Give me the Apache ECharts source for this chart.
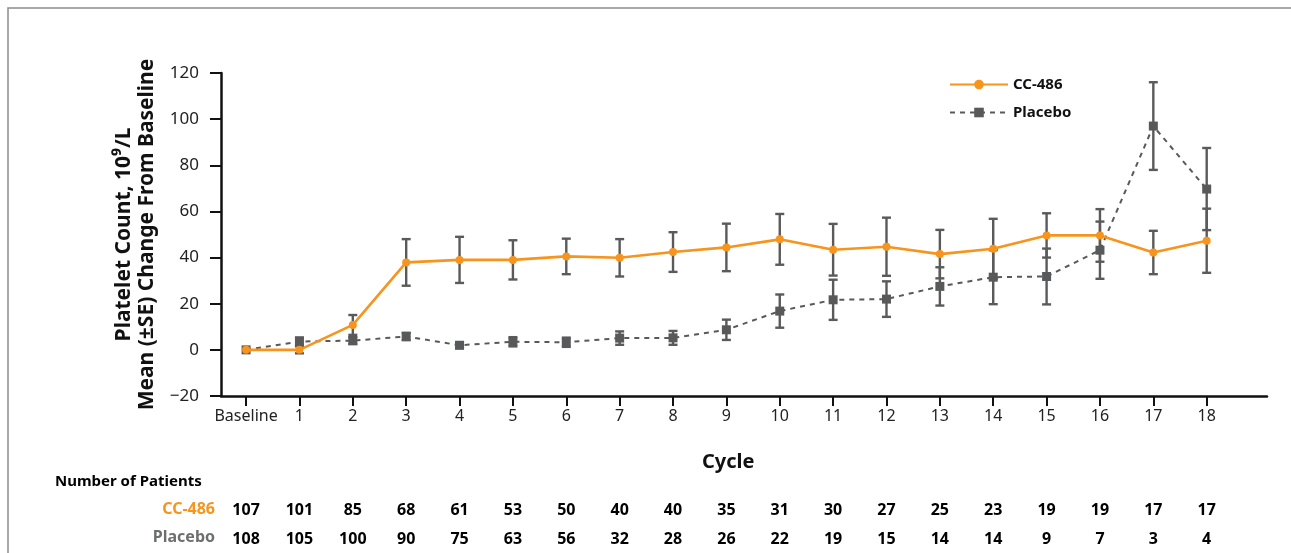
<!DOCTYPE html>
<html>
<head>
    <meta charset="utf-8">
    <title>Platelet count change</title>
    <script src="https://cdn.jsdelivr.net/npm/echarts@6/dist/echarts.min.js"></script>
</head>
<body style="margin:0;background:#fff;">
<div id="main" style="width: 1291px;height:553px;"></div>
<script type="text/javascript">
    // chart data
    const cycles = ['Baseline', '1', '2', '3', '4', '5', '6', '7', '8', '9', '10', '11', '12', '13', '14', '15', '16', '17', '18'];
    const cc486Mean = [0, 0, 10.8, 37.9, 39.0, 39.0, 40.5, 39.9, 42.4, 44.4, 47.9, 43.4, 44.7, 41.5, 43.8, 49.6, 49.6, 42.2, 47.3];
    const cc486SE = [0, 1.5, 4.3, 10.1, 10.0, 8.5, 7.7, 8.1, 8.6, 10.3, 11.0, 11.2, 12.6, 10.5, 13.0, 9.6, 11.4, 9.4, 13.9];
    const placeboMean = [0, 3.6, 4.0, 5.8, 2.0, 3.5, 3.3, 5.1, 5.2, 8.7, 16.8, 21.7, 22.0, 27.5, 31.5, 31.8, 43.2, 97.0, 69.7];
    const placeboSE = [0, 1.8, 1.5, 1.6, 1.3, 2.0, 2.0, 2.9, 3.0, 4.4, 7.2, 8.7, 7.7, 8.3, 11.7, 12.1, 12.4, 19.0, 17.8];
    const cc486N = [107, 101, 85, 68, 61, 53, 50, 40, 40, 35, 31, 30, 27, 25, 23, 19, 19, 17, 17];
    const placeboN = [108, 105, 100, 90, 75, 63, 56, 32, 28, 26, 22, 19, 15, 14, 14, 9, 7, 3, 4];
    const yTicks = [-20, 0, 20, 40, 60, 80, 100, 120];

    const ORANGE = '#F7941D';
    const GREY = '#58595B';
    const FONT = 'Noto Sans';

    const tickIdx = cycles.map((c, i) => i);

    // [x, low, high] for error bars
    function errData(mean, se) {
        let out = [];
        for (let i = 0; i < mean.length; i++) {
            if (se[i] > 0) out.push([i, mean[i] - se[i], mean[i] + se[i]]);
        }
        return out;
    }

    function renderErr(params, api) {
        const x = api.value(0);
        const lo = api.coord([x, api.value(1)]);
        const hi = api.coord([x, api.value(2)]);
        const cap = 4.5;
        const st = {stroke: '#5a5a5a', lineWidth: 2.4};
        return {
            type: 'group',
            children: [
                {type: 'line', shape: {x1: lo[0], y1: lo[1], x2: hi[0], y2: hi[1]}, style: st},
                {type: 'line', shape: {x1: lo[0] - cap, y1: lo[1], x2: lo[0] + cap, y2: lo[1]}, style: st},
                {type: 'line', shape: {x1: hi[0] - cap, y1: hi[1], x2: hi[0] + cap, y2: hi[1]}, style: st}
            ]
        };
    }

    function numberRow(rowY) {
        return function (params, api) {
            const p = api.coord([api.value(0), 0]);
            return {
                type: 'text',
                x: p[0],
                y: rowY,
                style: {
                    text: String(api.value(1)),
                    fill: '#000',
                    font: 'bold 16px "' + FONT + '"',
                    align: 'center',
                    verticalAlign: 'middle'
                }
            };
        };
    }

    const myChart = echarts.init(document.getElementById('main'));

    const option = {
        backgroundColor: '#fff',
        animation: false,
        textStyle: {fontFamily: FONT},
        grid: {left: 221, right: 24, top: 73, bottom: 157},
        legend: {
            orient: 'vertical',
            left: 949,
            top: 77,
            padding: 0,
            itemWidth: 58,
            itemHeight: 12,
            itemGap: 13,
            textStyle: {fontSize: 15, fontWeight: 'bold', color: '#111', fontFamily: FONT},
            data: ['CC-486', 'Placebo']
        },
        title: {
            text: 'Cycle',
            left: 697,
            top: 447,
            textStyle: {fontSize: 20, fontWeight: 'bold', color: '#111', fontFamily: FONT}
        },
        xAxis: {
            type: 'value',
            min: -0.47,
            max: 19.13,
            splitLine: {show: false},
            axisLine: {onZero: false, lineStyle: {color: '#111', width: 2.5}},
            axisTick: {
                show: true,
                customValues: tickIdx,
                length: 10,
                lineStyle: {color: '#111', width: 2}
            },
            axisLabel: {
                customValues: tickIdx,
                margin: 12,
                fontSize: 16,
                color: '#222',
                fontFamily: FONT,
                formatter: v => cycles[Math.round(v)]
            }
        },
        yAxis: {
            type: 'value',
            min: -20,
            max: 120,
            interval: 20,
            splitLine: {show: false},
            axisLine: {show: true, onZero: false, lineStyle: {color: '#111', width: 2.5}},
            axisTick: {show: true, length: 11, lineStyle: {color: '#111', width: 2}},
            axisLabel: {
                fontSize: 17,
                color: '#222',
                margin: 22,
                fontFamily: FONT,
                customValues: yTicks,
                formatter: v => (v < 0 ? '\u2212' + Math.abs(v) : String(v))
            },
            name: 'Platelet Count, 10\u2079/L\nMean (\u00B1SE) Change From Baseline',
            nameLocation: 'middle',
            nameRotate: 90,
            nameGap: 58,
            nameTextStyle: {fontSize: 21, fontWeight: 'bold', color: '#111', lineHeight: 23, fontFamily: FONT}
        },
        graphic: [
            {
                type: 'rect',
                shape: {x: 8, y: 8, width: 1400, height: 700},
                style: {fill: 'none', stroke: '#8c8c8c', lineWidth: 1.5},
                silent: true
            },
            {
                type: 'text', left: 55, top: 474,
                style: {text: 'Number of Patients', font: 'bold 15px "' + FONT + '"', fill: '#000'}
            },
            {
                type: 'text', right: 1291 - 215, top: 501,
                style: {text: 'CC-486', font: 'bold 16px "' + FONT + '"', fill: ORANGE}
            },
            {
                type: 'text', right: 1291 - 215, top: 529,
                style: {text: 'Placebo', font: 'bold 16px "' + FONT + '"', fill: '#6d6e70'}
            }
        ],
        series: [
            {
                name: 'errCC',
                type: 'custom',
                renderItem: renderErr,
                data: errData(cc486Mean, cc486SE),
                z: 1
            },
            {
                name: 'errPlacebo',
                type: 'custom',
                renderItem: renderErr,
                data: errData(placeboMean, placeboSE),
                z: 1
            },
            {
                name: 'Placebo',
                type: 'line',
                data: placeboMean.map((v, i) => [i, v]),
                symbol: 'rect',
                symbolSize: 9,
                itemStyle: {color: GREY},
                lineStyle: {color: GREY, width: 2, type: [5, 5]},
                z: 3
            },
            {
                name: 'CC-486',
                type: 'line',
                data: cc486Mean.map((v, i) => [i, v]),
                symbol: 'circle',
                symbolSize: 8,
                itemStyle: {color: ORANGE},
                lineStyle: {color: ORANGE, width: 2.6},
                z: 4
            },
            {
                name: 'nCC',
                type: 'custom',
                renderItem: numberRow(510),
                data: cc486N.map((v, i) => [i, v]),
                clip: false,
                silent: true
            },
            {
                name: 'nPlacebo',
                type: 'custom',
                renderItem: numberRow(539),
                data: placeboN.map((v, i) => [i, v]),
                clip: false,
                silent: true
            }
        ]
    };

    myChart.setOption(option);
</script>
</body>
</html>
